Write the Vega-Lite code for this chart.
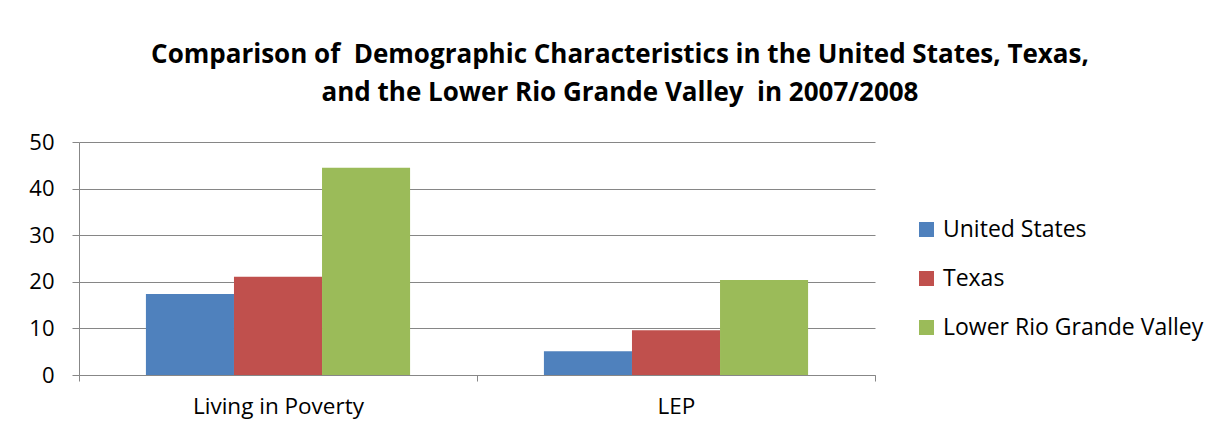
{
  "$schema": "https://vega.github.io/schema/vega-lite/v6.json",
  "autosize": "none",
  "width": 796,
  "height": 233,
  "padding": {"left": 79, "top": 142, "right": 349, "bottom": 62},
  "background": "white",
  "title": {
    "text": ["Comparison of \u00a0Demographic Characteristics in the United States, Texas,", "and the Lower Rio Grande Valley \u00a0in 2007/2008"],
    "font": "Open Sans",
    "fontSize": 26,
    "fontWeight": "bold",
    "color": "#000000",
    "anchor": "middle",
    "frame": "group",
    "dx": 143,
    "lineHeight": 38,
    "offset": 25
  },
  "data": {
    "values": [
      {"category": "Living in Poverty", "region": "United States", "value": 17.4},
      {"category": "Living in Poverty", "region": "Texas", "value": 21.1},
      {"category": "Living in Poverty", "region": "Lower Rio Grande Valley", "value": 44.5},
      {"category": "LEP", "region": "United States", "value": 5.1},
      {"category": "LEP", "region": "Texas", "value": 9.6},
      {"category": "LEP", "region": "Lower Rio Grande Valley", "value": 20.4}
    ]
  },
  "mark": {"type": "bar"},
  "encoding": {
    "x": {
      "field": "category",
      "type": "nominal",
      "sort": ["Living in Poverty", "LEP"],
      "scale": {"paddingInner": 0, "paddingOuter": 0},
      "axis": {
        "title": null,
        "labelAngle": 0,
        "tickBand": "extent",
        "domainColor": "#878787",
        "tickColor": "#878787",
        "tickSize": 6,
        "labelFont": "Open Sans",
        "labelFontSize": 22.5,
        "labelColor": "#000000",
        "labelPadding": 14,
        "grid": false
      }
    },
    "xOffset": {
      "field": "region",
      "type": "nominal",
      "sort": ["United States", "Texas", "Lower Rio Grande Valley"],
      "scale": {"paddingInner": 0, "paddingOuter": 0.76}
    },
    "y": {
      "field": "value",
      "type": "quantitative",
      "scale": {"domain": [0, 50], "nice": false},
      "axis": {
        "title": null,
        "values": [0, 10, 20, 30, 40, 50],
        "domainColor": "#878787",
        "tickColor": "#878787",
        "tickSize": 7,
        "gridColor": "#868686",
        "gridOpacity": 1,
        "labelFont": "Open Sans",
        "labelFontSize": 22,
        "labelColor": "#000000",
        "labelPadding": 18
      }
    },
    "color": {
      "field": "region",
      "type": "nominal",
      "sort": ["United States", "Texas", "Lower Rio Grande Valley"],
      "scale": {
        "domain": ["United States", "Texas", "Lower Rio Grande Valley"],
        "range": ["#4F81BD", "#C0504D", "#9BBB59"]
      },
      "legend": {
        "title": null,
        "orient": "none",
        "legendX": 836,
        "legendY": 76,
        "symbolType": "square",
        "symbolSize": 225,
        "symbolStrokeWidth": 0,
        "labelFont": "Open Sans",
        "labelFontSize": 23,
        "labelColor": "#000000",
        "labelOffset": 5,
        "labelLimit": 0,
        "rowPadding": 25
      }
    }
  },
  "config": {
    "view": {"stroke": null},
    "axis": {"domainWidth": 1, "tickWidth": 1, "gridWidth": 1}
  }
}
